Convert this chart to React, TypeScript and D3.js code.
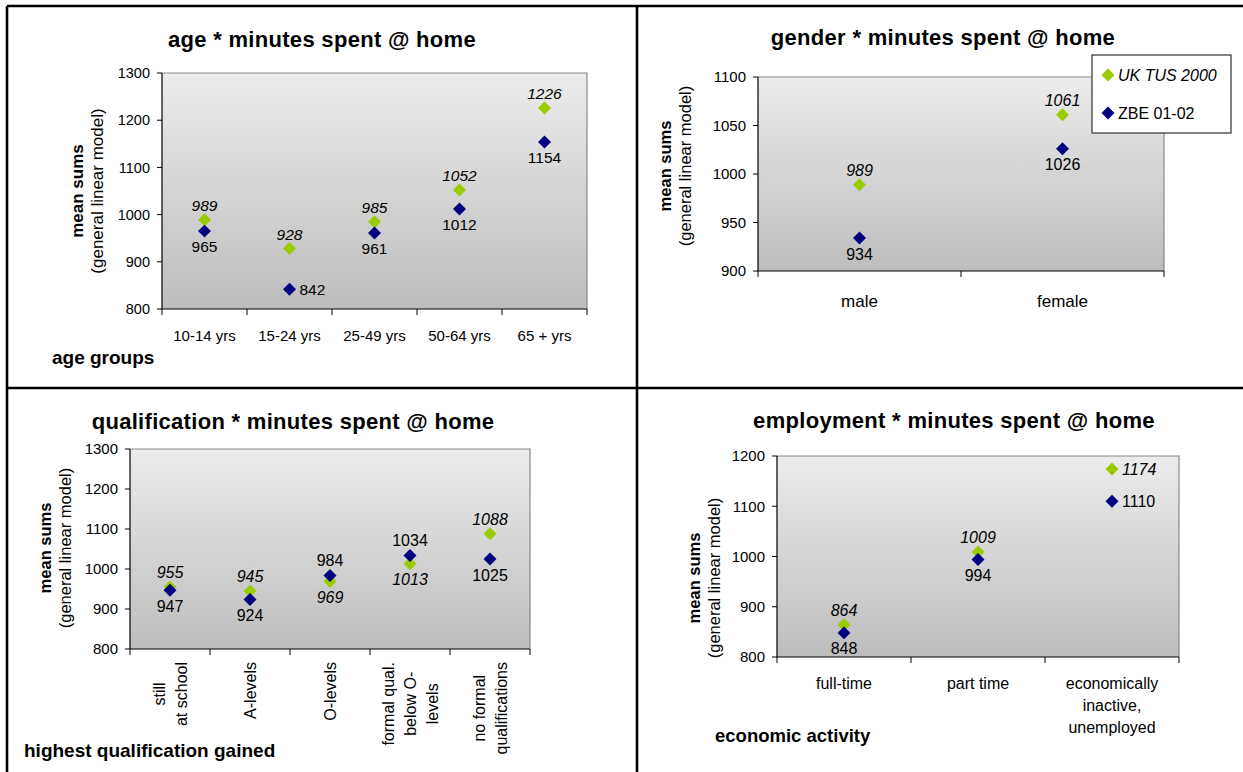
import React, { useMemo } from "react";
import * as d3 from "d3";

// Series
const seriesNames = ["UK TUS 2000", "ZBE 01-02"];
const seriesColors = ["#99cc00", "#000080"];

// Age
const ageGroups = [["10-14 yrs"], ["15-24 yrs"], ["25-49 yrs"], ["50-64 yrs"], ["65 + yrs"]];
const ageUK = [989, 928, 985, 1052, 1226];
const ageZBE = [965, 842, 961, 1012, 1154];
const ageTicks = [800, 900, 1000, 1100, 1200, 1300];

// Gender
const genders = [["male"], ["female"]];
const genderUK = [989, 1061];
const genderZBE = [934, 1026];
const genderTicks = [900, 950, 1000, 1050, 1100];

// Qualification
const qualifications = [
  ["still", "at school"],
  ["A-levels"],
  ["O-levels"],
  ["formal qual.", "below O-", "levels"],
  ["no formal", "qualifications"],
];
const qualUK = [955, 945, 969, 1013, 1088];
const qualZBE = [947, 924, 984, 1034, 1025];
const qualTicks = [800, 900, 1000, 1100, 1200, 1300];

// Employment
const activities = [["full-time"], ["part time"], ["economically", "inactive,", "unemployed"]];
const empUK = [864, 1009, 1174];
const empZBE = [848, 994, 1110];
const empTicks = [800, 900, 1000, 1100, 1200];

const FONT = "'Liberation Sans', Arial, Helvetica, sans-serif";

type Side = "auto" | "right";

interface PanelSpec {
  id: string;
  title: string;
  titleX: number;
  titleY: number;
  left: number;
  right: number;
  top: number;
  bottom: number;
  categories: string[][];
  values: number[][];
  ticks: number[];
  tickFont: number;
  catFont: number;
  dataFont: number;
  catMode: "horizontal" | "rotated";
  catY: number;
  catGap: number;
  yTitleX: [number, number];
  yTitleY: number;
  yTitleFont: number;
  xTitle?: string;
  xTitleX?: number;
  xTitleY?: number;
  xTitleFont?: number;
  sides?: Side[][];
}

const measureCtx =
  typeof document !== "undefined" ? document.createElement("canvas").getContext("2d") : null;
function textWidth(s: string, font: string) {
  if (!measureCtx) return s.length * 8;
  measureCtx.font = font;
  return measureCtx.measureText(s).width;
}

const diamond = d3.symbol().type(d3.symbolSquare).size(84)() as string;

function Panel({ p }: { p: PanelSpec }) {
  const x = d3
    .scaleBand<number>()
    .domain(p.categories.map((_, i) => i))
    .range([p.left, p.right])
    .padding(0);
  const y = d3
    .scaleLinear()
    .domain([p.ticks[0], p.ticks[p.ticks.length - 1]])
    .range([p.bottom, p.top]);
  const bw = x.bandwidth();
  const boundaries = d3.range(p.categories.length + 1).map((i) => p.left + i * bw);
  const gradId = `bg-${p.id}`;

  const labels: React.ReactNode[] = [];
  p.categories.forEach((_, i) => {
    const cx = (x(i) as number) + bw / 2;
    const [a, b] = [p.values[0][i], p.values[1][i]];
    p.values.forEach((vals, s) => {
      const v = vals[i];
      const cy = y(v);
      const side = p.sides?.[s]?.[i] ?? "auto";
      const other = s === 0 ? b : a;
      let tx = cx;
      let ty: number;
      let anchor = "middle";
      if (side === "right") {
        tx = cx + 10;
        ty = cy + p.dataFont * 0.36;
        anchor = "start";
      } else if (v >= other) {
        ty = cy - 9;
      } else {
        ty = cy + p.dataFont * 1.35;
      }
      labels.push(
        <text
          key={`l-${s}-${i}`}
          x={tx}
          y={ty}
          textAnchor={anchor}
          fontSize={p.dataFont}
          fontStyle={s === 0 ? "italic" : "normal"}
          fill="#000"
        >
          {v}
        </text>
      );
    });
  });

  return (
    <g fontFamily={FONT}>
      <defs>
        <linearGradient id={gradId} x1="0" y1="0" x2="0" y2="1">
          <stop offset="0" stopColor="#ececec" />
          <stop offset="1" stopColor="#bdbdbd" />
        </linearGradient>
      </defs>
      <text
        x={p.titleX}
        y={p.titleY}
        textAnchor="middle"
        fontSize={22}
        fontWeight="bold"
        letterSpacing={0.3}
      >
        {p.title}
      </text>
      <rect
        x={p.left}
        y={p.top}
        width={p.right - p.left}
        height={p.bottom - p.top}
        fill={`url(#${gradId})`}
      />
      <path
        d={`M${p.left},${p.top}H${p.right}V${p.bottom}`}
        fill="none"
        stroke="#888"
        strokeWidth={1.2}
      />
      <path
        d={`M${p.left},${p.top}V${p.bottom}H${p.right}`}
        fill="none"
        stroke="#000"
        strokeWidth={1.2}
      />
      {p.ticks.map((t) => (
        <g key={`yt-${t}`}>
          <line x1={p.left - 5} x2={p.left} y1={y(t)} y2={y(t)} stroke="#000" />
          <text
            x={p.left - 12}
            y={y(t) + p.tickFont * 0.36}
            textAnchor="end"
            fontSize={p.tickFont}
          >
            {t}
          </text>
        </g>
      ))}
      {boundaries.map((bx, i) => (
        <line key={`xt-${i}`} x1={bx} x2={bx} y1={p.bottom} y2={p.bottom + 6} stroke="#000" />
      ))}
      {p.categories.map((lines, i) => {
        const cx = (x(i) as number) + bw / 2;
        if (p.catMode === "horizontal") {
          return (
            <text key={`c-${i}`} textAnchor="middle" fontSize={p.catFont}>
              {lines.map((ln, j) => (
                <tspan key={j} x={cx} y={p.catY + j * p.catGap}>
                  {ln}
                </tspan>
              ))}
            </text>
          );
        }
        const maxW = d3.max(lines, (ln) => textWidth(ln, `${p.catFont}px ${FONT}`)) as number;
        const midY = p.catY + maxW / 2;
        return (
          <g key={`c-${i}`}>
            {lines.map((ln, j) => {
              const lx = cx + (j - (lines.length - 1) / 2) * p.catGap + p.catFont * 0.35;
              return (
                <text
                  key={j}
                  transform={`translate(${lx},${midY}) rotate(-90)`}
                  textAnchor="middle"
                  fontSize={p.catFont}
                >
                  {ln}
                </text>
              );
            })}
          </g>
        );
      })}
      <text
        transform={`translate(${p.yTitleX[0]},${p.yTitleY}) rotate(-90)`}
        textAnchor="middle"
        fontSize={p.yTitleFont}
        fontWeight="bold"
      >
        mean sums
      </text>
      <text
        transform={`translate(${p.yTitleX[1]},${p.yTitleY}) rotate(-90)`}
        textAnchor="middle"
        fontSize={p.yTitleFont}
      >
        (general linear model)
      </text>
      {p.xTitle && (
        <text x={p.xTitleX} y={p.xTitleY} fontSize={p.xTitleFont} fontWeight="bold">
          {p.xTitle}
        </text>
      )}
      {p.values.map((vals, s) =>
        vals.map((v, i) => (
          <path
            key={`m-${s}-${i}`}
            d={diamond}
            transform={`translate(${(x(i) as number) + bw / 2},${y(v)}) rotate(45)`}
            fill={seriesColors[s]}
          />
        ))
      )}
      {labels}
    </g>
  );
}

function Legend() {
  const x0 = 1092;
  const y0 = 55;
  const rows = [75, 113];
  return (
    <g fontFamily={FONT}>
      <rect x={x0} y={y0} width={139} height={78} fill="#fff" stroke="#333" strokeWidth={1.2} />
      {seriesNames.map((name, i) => (
        <g key={name}>
          <path
            d={diamond}
            transform={`translate(${x0 + 16},${rows[i]}) rotate(45)`}
            fill={seriesColors[i]}
          />
          <text
            x={x0 + 26}
            y={rows[i] + 6}
            fontSize={16}
            fontStyle={i === 0 ? "italic" : "normal"}
          >
            {name}
          </text>
        </g>
      ))}
    </g>
  );
}

export default function App() {
  const panels: PanelSpec[] = useMemo(
    () => [
      {
        id: "age",
        title: "age * minutes spent @ home",
        titleX: 322,
        titleY: 47,
        left: 162,
        right: 587,
        top: 73,
        bottom: 309,
        categories: ageGroups,
        values: [ageUK, ageZBE],
        ticks: ageTicks,
        tickFont: 14.5,
        catFont: 15,
        dataFont: 15.5,
        catMode: "horizontal",
        catY: 341,
        catGap: 20,
        yTitleX: [83, 103],
        yTitleY: 191,
        yTitleFont: 17,
        xTitle: "age groups",
        xTitleX: 52,
        xTitleY: 364,
        xTitleFont: 19,
        sides: [
          ["auto", "auto", "auto", "auto", "auto"],
          ["auto", "right", "auto", "auto", "auto"],
        ],
      },
      {
        id: "gender",
        title: "gender * minutes spent @ home",
        titleX: 943,
        titleY: 45,
        left: 758,
        right: 1164,
        top: 77,
        bottom: 271,
        categories: genders,
        values: [genderUK, genderZBE],
        ticks: genderTicks,
        tickFont: 15,
        catFont: 17,
        dataFont: 16,
        catMode: "horizontal",
        catY: 307,
        catGap: 20,
        yTitleX: [671, 691],
        yTitleY: 166,
        yTitleFont: 16.5,
      },
      {
        id: "qual",
        title: "qualification * minutes spent @ home",
        titleX: 293,
        titleY: 429,
        left: 130,
        right: 530,
        top: 449,
        bottom: 649,
        categories: qualifications,
        values: [qualUK, qualZBE],
        ticks: qualTicks,
        tickFont: 15,
        catFont: 16,
        dataFont: 16,
        catMode: "rotated",
        catY: 662,
        catGap: 22,
        yTitleX: [51, 71],
        yTitleY: 548,
        yTitleFont: 16.5,
        xTitle: "highest qualification gained",
        xTitleX: 24,
        xTitleY: 757,
        xTitleFont: 19,
      },
      {
        id: "emp",
        title: "employment * minutes spent @ home",
        titleX: 954,
        titleY: 428,
        left: 777,
        right: 1179,
        top: 456,
        bottom: 657,
        categories: activities,
        values: [empUK, empZBE],
        ticks: empTicks,
        tickFont: 15,
        catFont: 16,
        dataFont: 16,
        catMode: "horizontal",
        catY: 689,
        catGap: 22,
        yTitleX: [700, 720],
        yTitleY: 578,
        yTitleFont: 16.5,
        xTitle: "economic activity",
        xTitleX: 715,
        xTitleY: 742,
        xTitleFont: 18.5,
        sides: [
          ["auto", "auto", "right"],
          ["auto", "auto", "right"],
        ],
      },
    ],
    []
  );

  return (
    <svg
      width={1243}
      height={772}
      viewBox="0 0 1243 772"
      style={{ position: "absolute", left: 0, top: 0, background: "#fff" }}
    >
      <rect x={0} y={0} width={1243} height={772} fill="#fff" />
      {/* outer frame and quadrant dividers */}
      <g stroke="#000" strokeWidth={2.6} fill="none">
        <line x1={7} y1={6} x2={1243} y2={6} />
        <line x1={7} y1={6} x2={7} y2={772} />
        <line x1={637} y1={6} x2={637} y2={772} />
        <line x1={7} y1={388} x2={1243} y2={388} />
      </g>
      {panels.map((p) => (
        <Panel key={p.id} p={p} />
      ))}
      <Legend />
    </svg>
  );
}
